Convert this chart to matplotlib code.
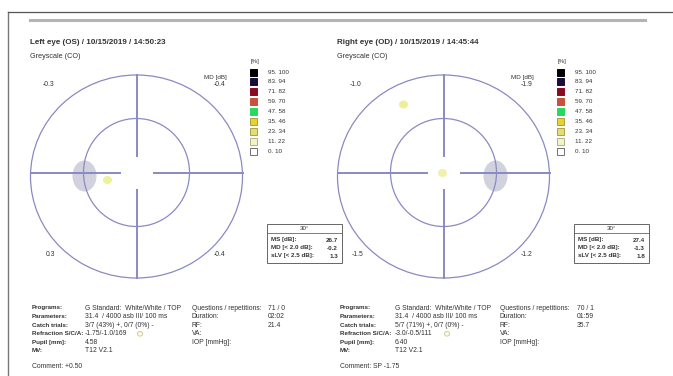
import matplotlib
matplotlib.use("Agg")
import matplotlib.pyplot as plt
from matplotlib.patches import Ellipse, Rectangle

plt.rcParams["font.family"] = ["Liberation Sans", "DejaVu Sans"]

# ---- report content ----
eye_titles = ["Left eye (OS) / 10/15/2019 / 14:50:23",
              "Right eye (OD) / 10/15/2019 / 14:45:44"]
map_subtitle = "Greyscale (CO)"

# quadrant MD values: upper-left, upper-right, lower-left, lower-right
quadrant_md = [["-0.3", "-0.4", "0.3", "-0.4"],
               ["-1.0", "-1.9", "-1.5", "-1.2"]]

legend_ranges = ["95..100", "83..94", "71..82", "59..70", "47..58",
                 "35..46", "23..34", "11..22", "0..10"]
legend_colors = ["#000000", "#1c0c3c", "#8a0a22", "#c85040", "#28d860",
                 "#e6d42c", "#e4de70", "#f3f3c8", "#ffffff"]
legend_edges = ["#000000", "#1c0c3c", "#8a0a22", "#c85040", "#28d860",
                "#a8a040", "#a8a050", "#b0b090", "#707070"]

stat_labels = ["MS [dB]:", "MD [< 2.0 dB]:", "sLV [< 2.5 dB]:"]
stat_values = [["26.7", "-0.2", "1.3"],
               ["27.4", "-1.3", "1.8"]]

info_labels_a = ["Programs:", "Parameters:", "Catch trials:",
                 "Refraction S/C/A:", "Pupil [mm]:", "MV:"]
info_values_a = [["G Standard:  White/White / TOP", "31.4  / 4000 asb III/ 100 ms",
                  "3/7 (43%) +, 0/7 (0%) -", "-1.75/-1.0/169", "4.58", "T12 V2.1"],
                 ["G Standard:  White/White / TOP", "31.4  / 4000 asb III/ 100 ms",
                  "5/7 (71%) +, 0/7 (0%) -", "-3.0/-0.5/111", "6.40", "T12 V2.1"]]
info_labels_b = ["Questions / repetitions:", "Duration:", "RF:", "VA:", "IOP [mmHg]:"]
info_values_b = [["71 / 0", "02:02", "21.4", "", ""],
                 ["70 / 1", "01:59", "35.7", "", ""]]
comments = ["Comment: +0.50", "Comment: SP -1.75"]

# blind spot (x offset from map centre) and light defect spots per eye
blind_spot_dx = [-52, 52]
defect_spots = [[(-29, 7.5, "#eef09a")],
                [(-40, -68, "#eeee9a"), (-1, 0.5, "#f0f0b0")]]

# ---- figure ----
W, H = 673, 376
fig = plt.figure(figsize=(W / 100, H / 100), dpi=100)
ax = fig.add_axes([0, 0, 1, 1])
ax.set_xlim(0, W)
ax.set_ylim(H, 0)
ax.axis("off")

TXT = "#333333"
LINE = "#8a8ac4"
FS = 4.9

# page frame
ax.plot([8, 8], [12, H], color="#777777", lw=1.0)
ax.plot([8, W], [12, 12], color="#555555", lw=0.9)
ax.plot([30, 645], [20, 20], color="#b4b4b4", lw=2.2)

panel_x = [0, 307]
for i in range(2):
    ox = panel_x[i]
    cx, cy = 136.5 + ox, 172.5

    ax.text(30 + ox, 43, eye_titles[i], fontsize=5.8, fontweight="bold",
            color=TXT, va="center", ha="left")
    ax.text(30 + ox, 56, map_subtitle, fontsize=FS + 0.3, color=TXT, va="center", ha="left")

    # blind spot
    ax.add_patch(Ellipse((cx + blind_spot_dx[i], cy + 3.5), 24, 31,
                         facecolor="#d2d2de", edgecolor="none", zorder=1))
    for dx, dy, col in defect_spots[i]:
        ax.add_patch(Ellipse((cx + dx, cy + dy), 9, 8, facecolor=col,
                             edgecolor="none", zorder=1))

    # field rings
    ax.add_patch(Ellipse((cx, cy + 4), 212, 203, facecolor="none",
                         edgecolor=LINE, lw=0.9, zorder=2))
    ax.add_patch(Ellipse((cx, cy), 106, 108, facecolor="none",
                         edgecolor=LINE, lw=0.9, zorder=2))
    # cross hair with central gap
    g = 17
    ax.plot([cx - 106, cx - g], [cy, cy], color=LINE, lw=1.4, zorder=2)
    ax.plot([cx + g, cx + 106], [cy, cy], color=LINE, lw=1.4, zorder=2)
    ax.plot([cx, cx], [cy - 97.5, cy - g], color=LINE, lw=1.4, zorder=2)
    ax.plot([cx, cx], [cy + g, cy + 105.5], color=LINE, lw=1.4, zorder=2)

    # quadrant MD values
    ul, ur, ll, lr = quadrant_md[i]
    ax.text(cx - 88, 85, ul, fontsize=FS, color=TXT, ha="center", va="center")
    ax.text(cx + 90, 78, "MD [dB]", fontsize=FS - 0.4, color=TXT, ha="right", va="center")
    ax.text(cx + 89, 85, ur, fontsize=FS, color=TXT, ha="right", va="center")
    ax.text(cx - 86, 255, ll, fontsize=FS, color=TXT, ha="center", va="center")
    ax.text(cx + 89, 255, lr, fontsize=FS, color=TXT, ha="right", va="center")

    # probability legend
    lx = 253 + ox
    ax.text(lx - 2, 61, "[%]", fontsize=FS - 0.5, color=TXT, ha="left", va="center")
    for k, (lab, fc, ec) in enumerate(zip(legend_ranges, legend_colors, legend_edges)):
        y = 72 + k * 9.9
        ax.add_patch(Rectangle((lx - 3.5, y - 3.5), 7, 7, facecolor=fc,
                               edgecolor=ec, lw=0.7))
        ax.text(lx + 15, y, lab.replace("..", ". "), fontsize=FS - 0.4,
                color=TXT, ha="left", va="center")

    # global indices box
    bx0, bx1 = 267 + ox, 342 + ox
    ax.add_patch(Rectangle((bx0, 224), bx1 - bx0, 38.5, facecolor="white",
                           edgecolor="#666666", lw=0.7))
    ax.plot([bx0, bx1], [233, 233], color="#666666", lw=0.6)
    ax.text((bx0 + bx1) / 2, 228.5, "30°", fontsize=FS - 0.5, color=TXT,
            ha="center", va="center")
    for k, (lab, val) in enumerate(zip(stat_labels, stat_values[i])):
        y = 240 + k * 8
        ax.text(bx0 + 4, y, lab, fontsize=FS - 0.4, color=TXT, fontweight="bold",
                ha="left", va="center")
        ax.text(bx1 - 4, y, val, fontsize=FS - 0.4, color=TXT, fontweight="bold",
                ha="right", va="center")

# examination details
cols = [(32, 85, 192, 268), (340, 395, 500, 577)]
icon_x = [140, 447]
for i, (c1, c2, c3, c4) in enumerate(cols):
    for k, (lab, val) in enumerate(zip(info_labels_a, info_values_a[i])):
        y = 308 + k * 8.6
        ax.text(c1, y, lab, fontsize=FS - 0.4, color=TXT, fontweight="bold",
                ha="left", va="center")
        ax.text(c2, y, val, fontsize=FS, color=TXT, ha="left", va="center")
    for k, (lab, val) in enumerate(zip(info_labels_b, info_values_b[i])):
        y = 308 + k * 8.6
        ax.text(c3, y, lab, fontsize=FS, color=TXT, ha="left", va="center")
        ax.text(c4, y, val, fontsize=FS, color=TXT, ha="left", va="center")
    # small refraction marker next to the S/C/A value
    ax.add_patch(Ellipse((icon_x[i], 333.8), 5, 4.5, facecolor="none",
                         edgecolor="#d8d090", lw=0.8))
    ax.text(c1, 367, comments[i], fontsize=FS, color=TXT, ha="left", va="center")

fig.savefig("out.png", dpi=100, facecolor="white")
